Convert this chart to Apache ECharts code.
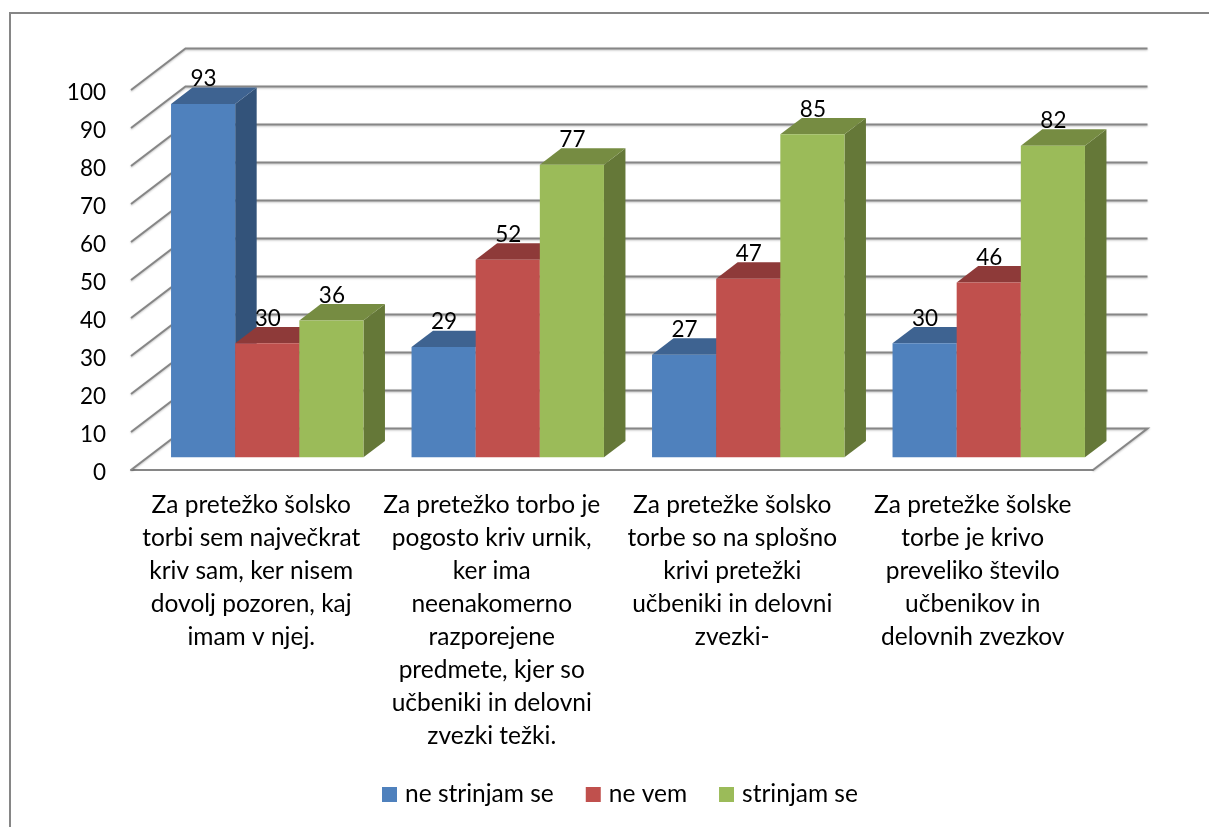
<!DOCTYPE html>
<html><head><meta charset="utf-8">
<script src="https://cdn.jsdelivr.net/npm/echarts@6/dist/echarts.min.js"></script>
<style>html,body{margin:0;padding:0;background:#fff}#c{width:1209px;height:827px}</style>
</head><body><div id="c"></div>
<script>
const categories = [
  "Za pretežko šolsko\ntorbi sem največkrat\nkriv sam, ker nisem\ndovolj pozoren, kaj\nimam v njej.",
  "Za pretežko torbo je\npogosto kriv urnik,\nker ima\nneenakomerno\nrazporejene\npredmete, kjer so\nučbeniki in delovni\nzvezki težki.",
  "Za pretežke šolsko\ntorbe so na splošno\nkrivi pretežki\nučbeniki in delovni\nzvezki-",
  "Za pretežke šolske\ntorbe je krivo\npreveliko število\nučbenikov in\ndelovnih zvezkov"
];
const neStrinjam = [93, 29, 27, 30];
const neVem = [30, 52, 47, 46];
const strinjam = [36, 77, 85, 82];
const gridTicks = [0, 10, 20, 30, 40, 50, 60, 70, 80, 90, 100];

const FONT = 'Lato';
const FS = 22.5;
const FS_TEXT = 24.5;
const WALL_DX = 54.5, WALL_DY = 41.5;
const LINE = '#868686';
const lineShadow = {shadowBlur: 2, shadowColor: 'rgba(0,0,0,0.25)', shadowOffsetY: 1};

function wallItem(params, api) {
  const v = api.value(0);
  const cs = params.coordSys;
  const p = api.coord([0, v]);
  const y = p[1];
  const x0 = cs.x, x1 = cs.x + cs.width;
  const style = Object.assign({stroke: LINE, lineWidth: 2, fill: null}, lineShadow);
  const pts = [[x0, y], [x0 + WALL_DX, y - WALL_DY], [x1 + WALL_DX, y - WALL_DY]];
  if (v === gridTicks[0]) pts.push([x1, y]);
  return {type: 'polyline', shape: {points: pts}, style: style, silent: true};
}

function barRenderer(slot, front, top, side) {
  return function (params, api) {
    const i = api.value(0), v = api.value(1);
    const band = api.size([1, 0])[0];
    const w = band * 0.2667;
    const c0 = api.coord([i, 0]);
    const c1 = api.coord([i, v]);
    const xl = c0[0] + 16 + (slot - 0.5) * w;
    const xr = xl + w;
    const yb = c0[1] - 12.7;
    const yt = c1[1] - 12.7;
    const dx = 21.5, dy = 16.4;
    return {type: 'group', children: [
      {type: 'polygon', shape: {points: [[xr, yb], [xr + dx, yb - dy], [xr + dx, yt - dy], [xr, yt]]}, style: {fill: side}},
      {type: 'polygon', shape: {points: [[xl, yt], [xl + dx, yt - dy], [xr + dx, yt - dy], [xr, yt]]}, style: {fill: top}},
      {type: 'rect', shape: {x: xl, y: yt, width: w, height: yb - yt}, style: {fill: front}},
      {type: 'text', z2: 100, style: {x: (xl + xr) / 2 + 0.5, y: yt - 25, text: String(v), align: 'center', verticalAlign: 'middle',
        font: FS + 'px ' + FONT, fill: '#000'}}
    ]};
  };
}

function barSeries(name, values, slot, front, top, side, z) {
  return {
    type: 'custom', name: name, z: z,
    data: values.map((v, i) => [i, v]),
    encode: {x: 0, y: 1},
    itemStyle: {color: front},
    renderItem: barRenderer(slot, front, top, side)
  };
}

const chart = echarts.init(document.getElementById('c'), null, {renderer: 'canvas'});
chart.setOption({
  animation: false,
  backgroundColor: '#fff',
  textStyle: {fontFamily: FONT},
  graphic: [{type: 'polyline', silent: true, shape: {points: [[10, 827], [10, 13], [1209, 13]]},
    style: {stroke: LINE, lineWidth: 2, fill: null}}],
  grid: {left: 131, top: 90, width: 962, height: 380, containLabel: false},
  legend: {
    left: 377, top: 777, icon: 'rect', itemWidth: 15, itemHeight: 15, itemGap: 32,
    data: ['ne strinjam se', 'ne vem', 'strinjam se'], selectedMode: false,
    textStyle: {fontFamily: FONT, fontSize: FS_TEXT, color: '#000', padding: [0, 0, 0, 3]}
  },
  xAxis: {
    type: 'category', data: categories,
    axisLine: {show: true, lineStyle: {color: LINE, width: 2}},
    axisTick: {show: false},
    axisLabel: {interval: 0, margin: 19, color: '#000', fontFamily: FONT, fontSize: FS_TEXT, lineHeight: 33, align: 'center', hideOverlap: false}
  },
  yAxis: {
    type: 'value', min: 0, max: 100, interval: 10,
    axisLine: {show: false}, axisTick: {show: false}, splitLine: {show: false},
    axisLabel: {margin: 25, color: '#000', fontFamily: FONT, fontSize: FS, verticalAlign: 'top', lineHeight: 6}
  },
  series: [
    {type: 'custom', name: 'wall', z: 1, silent: true, data: gridTicks.map(v => [v]),
      encode: {y: 0}, renderItem: wallItem},
    barSeries('ne strinjam se', neStrinjam, -1, '#4F81BD', '#3E6391', '#33537A', 2),
    barSeries('ne vem', neVem, 0, '#C0504D', '#8E3A39', '#7A302E', 3),
    barSeries('strinjam se', strinjam, 1, '#9BBB59', '#768C42', '#657838', 4)
  ]
});
</script></body></html>
